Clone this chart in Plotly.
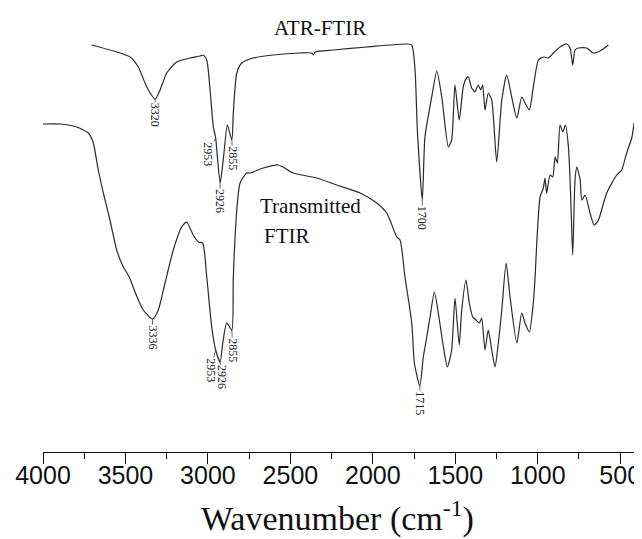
import plotly.graph_objects as go

# ATR-FTIR spectrum (wavenumber cm-1, transmittance in arbitrary units)
atr_wn = [3705, 3553, 3472, 3422, 3371, 3320, 3290, 3250, 3189, 3109, 3048, 3028,
          3007, 2987, 2967, 2953, 2926, 2907, 2882, 2855, 2846, 2825, 2795, 2725,
          2603, 2441, 2371, 2360, 2350, 2240, 2037, 1794, 1764, 1744, 1730, 1700,
          1684, 1643, 1612, 1582, 1542, 1522, 1502, 1476, 1452, 1432, 1421, 1411,
          1401, 1391, 1381, 1361, 1346, 1334, 1320, 1300, 1279, 1249, 1218, 1188,
          1158, 1127, 1097, 1077, 1051, 1027, 996, 966, 935, 905, 865, 824, 804,
          788, 774, 754, 703, 663, 622, 572]
atr_t = [407, 400, 395, 385, 365, 353, 362, 379, 390, 394, 396, 397,
         392, 362, 325, 314, 269, 292, 327, 312, 339, 379, 389, 394,
         397, 399, 399, 397, 400, 402, 405, 408, 407, 382, 322, 252,
         315, 355, 381, 355, 305, 312, 367, 332, 365, 374, 375, 370,
         364, 362, 360, 367, 362, 367, 342, 359, 352, 290, 352, 377,
         355, 334, 355, 349, 342, 365, 392, 395, 394, 399, 405, 408, 404,
         387, 402, 404, 404, 399, 401, 407]

# Transmitted FTIR spectrum
tr_wn = [4000, 3897, 3796, 3725, 3695, 3665, 3634, 3594, 3553, 3513, 3477, 3442,
         3392, 3336, 3301, 3260, 3210, 3159, 3129, 3089, 3058, 3032, 3007, 2977,
         2953, 2926, 2910, 2886, 2855, 2846, 2825, 2805, 2765, 2745, 2664, 2573,
         2482, 2340, 2219, 2077, 1976, 1916, 1896, 1855, 1835, 1805, 1764, 1748,
         1715, 1694, 1673, 1653, 1627, 1603, 1572, 1548, 1522, 1502, 1476, 1461,
         1435, 1415, 1394, 1374, 1354, 1340, 1320, 1300, 1279, 1259, 1239, 1218,
         1192, 1168, 1127, 1097, 1077, 1051, 1027, 1016, 1006, 986, 966, 956,
         946, 925, 909, 895, 881, 865, 848, 832, 814, 800, 788, 774, 763, 743,
         733, 713, 683, 658, 632, 582, 521, 491, 461, 430, 416]
tr_t = [328, 328, 325, 319, 309, 282, 259, 232, 202, 185, 175, 160,
        142, 133, 142, 169, 202, 225, 230, 217, 210, 209, 175, 125,
        102, 90, 109, 129, 122, 175, 242, 269, 279, 279, 284, 287,
        279, 274, 267, 259, 249, 239, 232, 215, 212, 175, 129, 89,
        66, 95, 115, 135, 160, 139, 105, 85, 102, 154, 107, 142,
        172, 149, 135, 132, 129, 134, 102, 122, 102, 85, 109, 142,
        189, 155, 109, 139, 129, 120, 149, 175, 209, 255, 264, 274,
        259, 277, 275, 295, 289, 327, 320, 327, 305, 255, 197, 272, 285, 272,
        252, 257, 239, 227, 232, 259, 277, 282, 299, 314, 329]

x_ticks = [4000, 3500, 3000, 2500, 2000, 1500, 1000, 500]
x_minor = [3750, 3250, 2750, 2250, 1750, 1250, 750]

atr_peaks = [3320, 2953, 2926, 2855, 1700]
tr_peaks = [3336, 2953, 2926, 2855, 1715]

# label offsets (px) : (dx, dy) from the peak to the label centre
atr_off = {3320: (0, 16), 2953: (-8, 16), 2926: (0, 18), 2855: (1, 18), 1700: (0, 18)}
tr_off = {3336: (0, 18), 2953: (-5, 20), 2926: (2, 15), 2855: (1, 20), 1715: (0, 17)}

LINE = "#2a2a2a"
SERIF = "Liberation Serif, Times New Roman, serif"
SANS = "Liberation Sans, Arial, sans-serif"

fig = go.Figure()
fig.add_trace(go.Scatter(x=atr_wn, y=atr_t, mode="lines", name="ATR-FTIR",
                         line=dict(color=LINE, width=1.2, shape="spline", smoothing=0.6)))
fig.add_trace(go.Scatter(x=tr_wn, y=tr_t, mode="lines", name="Transmitted FTIR",
                         line=dict(color=LINE, width=1.2, shape="spline", smoothing=0.6)))

ann = []
def add_peaks(peaks, xs, ys, offs):
    for p in peaks:
        y = ys[xs.index(p)]
        dx, dy = offs[p]
        ann.append(dict(x=p, y=y, xref="x", yref="y", text=str(p), textangle=90,
                        showarrow=True, arrowhead=0, arrowwidth=0.7, arrowcolor=LINE,
                        ax=dx, ay=dy, standoff=0, borderpad=0,
                        font=dict(family=SERIF, size=12, color="#222")))

add_peaks(atr_peaks, atr_wn, atr_t, atr_off)
add_peaks(tr_peaks, tr_wn, tr_t, tr_off)

def label(x, y, text, size, xanchor="center", yshift=0):
    ann.append(dict(x=x, y=y, xref="paper", yref="paper", text=text, showarrow=False,
                    xanchor=xanchor, yanchor="middle", yshift=yshift,
                    font=dict(family=SERIF, size=size, color="#111")))

label(0.464, 0.955, "ATR-FTIR", 21)
label(0.360, 0.554, "Transmitted", 21, xanchor="left")
label(0.367, 0.486, "FTIR", 21, xanchor="left")
label(0.493, 0.0, "Wavenumber (cm<sup>-1</sup>)", 34, yshift=-64)

fig.update_layout(
    width=634, height=531,
    margin=dict(l=35, r=2, t=0, b=87),
    paper_bgcolor="white", plot_bgcolor="white",
    showlegend=False,
    annotations=ann,
    xaxis=dict(range=[4000, 380], tickvals=x_ticks, ticktext=[str(v) for v in x_ticks],
               automargin=False, ticklabelstandoff=-10,
               showgrid=False, zeroline=False, showline=True, linecolor="#111", linewidth=1.3,
               ticks="outside", ticklen=11, tickwidth=1.2, tickcolor="#111",
               tickfont=dict(family=SANS, size=25, color="#111"),
               minor=dict(tickvals=x_minor, ticks="outside",
                          ticklen=6, tickwidth=1.2, tickcolor="#111")),
    yaxis=dict(range=[0, 444], visible=False, automargin=False),
)

fig.write_html("out.html")
